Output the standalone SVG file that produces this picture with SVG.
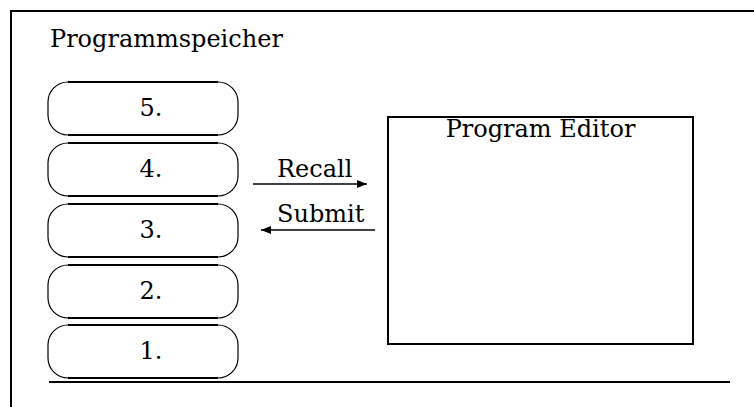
<svg xmlns="http://www.w3.org/2000/svg" width="754" height="407" viewBox="0 0 754 407">
  <style>
    text { font-family: "DejaVu Serif", "Liberation Serif", serif; font-size: 24px; fill: #000; }
    .frame { stroke: #000; stroke-width: 2; fill: none; }
    .slot { fill: #fff; stroke: #000; stroke-width: 1.2; }
    .slot-edge { stroke: #000; stroke-width: 2; }
    .arrow { stroke: #000; stroke-width: 1.6; fill: none; }
  </style>
  <defs>
    <marker id="head" viewBox="0 0 10 8" refX="10" refY="4" markerWidth="10" markerHeight="8" markerUnits="userSpaceOnUse" orient="auto">
      <path d="M0,0 L10,4 L0,8 Z" fill="#000"/>
    </marker>
  </defs>

  <rect width="754" height="407" fill="#fff"/>

  <!-- outer frame -->
  <g id="frame">
    <line class="frame" x1="10" y1="11" x2="754" y2="11"/>
    <line class="frame" x1="11" y1="10" x2="11" y2="407"/>
    <line class="frame" x1="49" y1="382" x2="730" y2="382"/>
    <text x="50" y="47">Programmspeicher</text>
  </g>

  <!-- program memory slots -->
  <g id="slot5">
    <rect class="slot" x="48" y="82" width="190" height="53" rx="20" ry="20"/>
    <line class="slot-edge" x1="68" y1="82" x2="218" y2="82"/>
    <line class="slot-edge" x1="68" y1="135" x2="218" y2="135"/>
    <text x="151" y="115.5" text-anchor="middle">5.</text>
  </g>
  <g id="slot4">
    <rect class="slot" x="48" y="143" width="190" height="53" rx="20" ry="20"/>
    <line class="slot-edge" x1="68" y1="143" x2="218" y2="143"/>
    <line class="slot-edge" x1="68" y1="196" x2="218" y2="196"/>
    <text x="151" y="176.5" text-anchor="middle">4.</text>
  </g>
  <g id="slot3">
    <rect class="slot" x="48" y="204" width="190" height="53" rx="20" ry="20"/>
    <line class="slot-edge" x1="68" y1="204" x2="218" y2="204"/>
    <line class="slot-edge" x1="68" y1="257" x2="218" y2="257"/>
    <text x="151" y="237.5" text-anchor="middle">3.</text>
  </g>
  <g id="slot2">
    <rect class="slot" x="48" y="265" width="190" height="53" rx="20" ry="20"/>
    <line class="slot-edge" x1="68" y1="265" x2="218" y2="265"/>
    <line class="slot-edge" x1="68" y1="318" x2="218" y2="318"/>
    <text x="151" y="298.5" text-anchor="middle">2.</text>
  </g>
  <g id="slot1">
    <rect class="slot" x="48" y="325" width="190" height="53" rx="20" ry="20"/>
    <line class="slot-edge" x1="68" y1="325" x2="218" y2="325"/>
    <line class="slot-edge" x1="68" y1="378" x2="218" y2="378"/>
    <text x="151" y="358.5" text-anchor="middle">1.</text>
  </g>

  <!-- editor -->
  <g id="editor">
    <rect class="frame" x="388" y="117" width="305" height="227"/>
    <text x="540.5" y="137" text-anchor="middle">Program Editor</text>
  </g>

  <!-- transfers between memory and editor -->
  <g id="connectors">
    <line class="arrow" x1="253" y1="184" x2="367" y2="184" marker-end="url(#head)"/>
    <text x="277" y="177">Recall</text>
    <line class="arrow" x1="375" y1="230" x2="261" y2="230" marker-end="url(#head)"/>
    <text x="277" y="222">Submit</text>
  </g>
</svg>
